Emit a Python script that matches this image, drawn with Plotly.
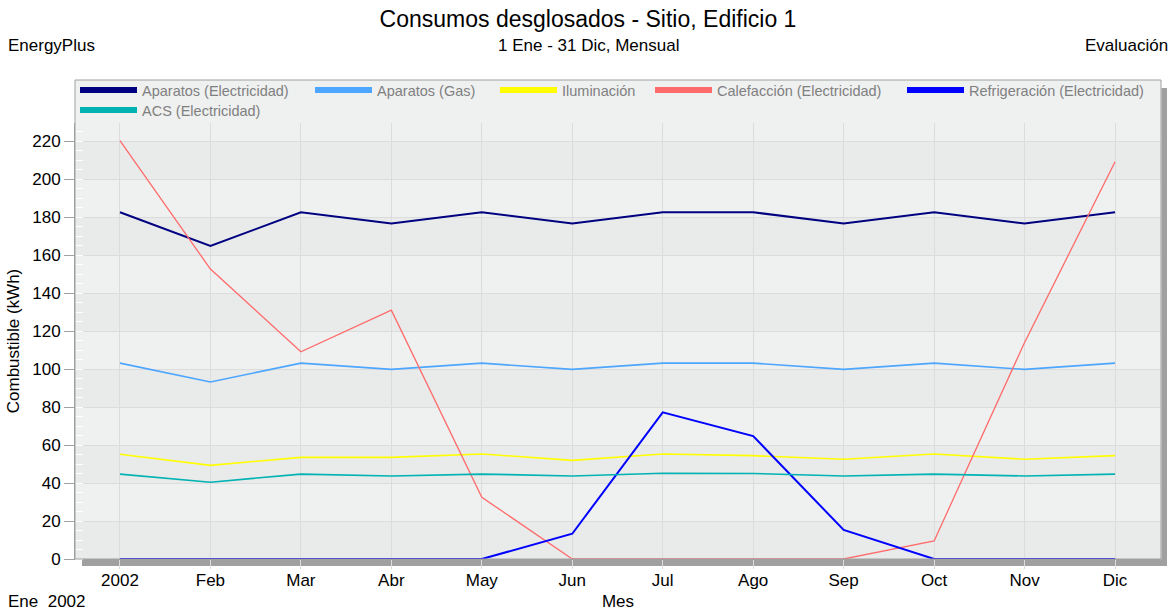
import plotly.graph_objects as go

# ---------------- data ----------------
meses = ["2002", "Feb", "Mar", "Abr", "May", "Jun", "Jul", "Ago", "Sep", "Oct", "Nov", "Dic"]
aparatos_elec = [182.5, 164.8, 182.5, 176.6, 182.5, 176.6, 182.5, 182.5, 176.6, 182.5, 176.6, 182.5]
aparatos_gas = [103.1, 93.2, 103.1, 99.8, 103.1, 99.8, 103.1, 103.1, 99.8, 103.1, 99.8, 103.1]
iluminacion = [55.1, 49.3, 53.5, 53.5, 55.3, 51.9, 55.3, 54.4, 52.5, 55.3, 52.5, 54.4]
calefaccion = [220.2, 152.6, 109.1, 131.0, 32.5, 0, 0, 0, 0, 9.5, 114.0, 209.1]
refrigeracion = [0, 0, 0, 0, 0, 13.3, 77.2, 64.7, 15.3, 0, 0, 0]
acs = [44.7, 40.4, 44.7, 43.7, 44.7, 43.7, 45.1, 45.0, 43.7, 44.7, 43.7, 44.7]
y_ticks = [0, 20, 40, 60, 80, 100, 120, 140, 160, 180, 200, 220]

series = [
    ("Aparatos (Electricidad)", aparatos_elec, "#000080", 2.0),
    ("Aparatos (Gas)", aparatos_gas, "#4da6ff", 1.6),
    ("Iluminación", iluminacion, "#ffff00", 1.6),
    ("Calefacción (Electricidad)", calefaccion, "#ff6b6b", 1.3),
    ("Refrigeración (Electricidad)", refrigeracion, "#0000ff", 2.0),
    ("ACS (Electricidad)", acs, "#00b2b2", 1.6),
]

# ---------------- geometry helpers ----------------
W, H = 1176, 612
L, R, T, B = 75, 1161, 123, 559
PW, PH = R - L, B - T


def px(p):
    return (p - L) / PW


def py(p):
    return (B - p) / PH


FONT = "Liberation Sans, Arial, sans-serif"
xidx = list(range(len(meses)))

fig = go.Figure()

legend_names = ["legend", "legend2", "legend3", "legend4", "legend5", "legend6"]
legend_pos = [(80, 90), (315, 90), (500, 90), (655, 90), (907, 90), (80, 110)]

for i, (name, vals, color, w) in enumerate(series):
    fig.add_trace(go.Scatter(
        x=xidx, y=vals, mode="lines", name=name,
        line=dict(color=color, width=w),
        legendgroup=name, showlegend=False,
        hovertemplate="%{y:.1f}<extra>" + name + "</extra>",
    ))

for i, (name, vals, color, w) in enumerate(series):
    fig.add_trace(go.Scatter(
        x=[None], y=[None], mode="lines", name=name,
        line=dict(color=color, width=6),
        legendgroup=name, showlegend=True, legend=legend_names[i],
        hoverinfo="skip",
    ))

shapes = []
# alternating horizontal bands
for k in range(0, 12, 2):
    shapes.append(dict(type="rect", xref="paper", yref="y", x0=0, x1=1,
                       y0=y_ticks[k], y1=y_ticks[k] + 20,
                       fillcolor="#e9eaea", line=dict(width=0), layer="below"))
# legend area background (top of box)
shapes.append(dict(type="rect", xref="paper", yref="paper",
                   x0=px(L), x1=px(R), y0=py(T), y1=py(80),
                   fillcolor="#eff0f0", line=dict(width=0), layer="below"))
# shadow right and bottom
shapes.append(dict(type="rect", xref="paper", yref="paper",
                   x0=px(R + 0.5), x1=px(1167), y0=py(566), y1=py(88),
                   fillcolor="#a0a0a0", line=dict(width=0), layer="below"))
shapes.append(dict(type="rect", xref="paper", yref="paper",
                   x0=px(82), x1=px(1167), y0=py(566), y1=py(B + 0.5),
                   fillcolor="#a0a0a0", line=dict(width=0), layer="below"))
# box border
shapes.append(dict(type="rect", xref="paper", yref="paper",
                   x0=px(L), x1=px(R), y0=py(B), y1=py(80),
                   fillcolor="rgba(0,0,0,0)", line=dict(width=1, color="#a0a0a0"),
                   layer="above"))

annotations = [
    dict(text="EnergyPlus", x=px(6), y=py(45), xanchor="left", yanchor="middle"),
    dict(text="1 Ene - 31 Dic, Mensual", x=px(588), y=py(45), xanchor="center", yanchor="middle"),
    dict(text="Evaluación", x=px(1170), y=py(45), xanchor="right", yanchor="middle"),
    dict(text="Ene  2002", x=px(6), y=py(601), xanchor="left", yanchor="middle"),
]
for a in annotations:
    a.update(xref="paper", yref="paper", showarrow=False,
             font=dict(family=FONT, size=17, color="#000000"))

layout_legends = {}
for i, ln in enumerate(legend_names):
    lx, ly = legend_pos[i]
    layout_legends[ln] = dict(
        x=px(lx - 5), y=py(ly), xanchor="left", yanchor="middle",
        orientation="h", bgcolor="rgba(0,0,0,0)", borderwidth=0,
        font=dict(family=FONT, size=14.5, color="#808080"),
        itemwidth=57, itemclick=False, itemdoubleclick=False,
    )

fig.update_layout(
    width=W, height=H,
    margin=dict(l=L, r=W - R, t=T, b=H - B, autoexpand=False),
    paper_bgcolor="#ffffff", plot_bgcolor="#eff0f0",
    font=dict(family=FONT, size=17, color="#000000"),
    title=dict(text="Consumos desglosados - Sitio, Edificio 1",
               x=0.5, xref="container", xanchor="center",
               y=1 - 19 / H, yref="container", yanchor="middle",
               font=dict(family=FONT, size=23, color="#000000")),
    xaxis=dict(
        range=[-0.497, 11.508], tickmode="array", tickvals=xidx, ticktext=meses,
        showgrid=True, gridcolor="#dcdcdc", gridwidth=1,
        ticks="outside", ticklen=9, tickcolor="#dcdcdc",
        ticklabelstandoff=-3,
        showline=True, linecolor="#a0a0a0", linewidth=1,
        zeroline=False, fixedrange=True,
        tickfont=dict(family=FONT, size=17, color="#000000"),
        title=dict(text="Mes", font=dict(family=FONT, size=17), standoff=5),
    ),
    yaxis=dict(
        range=[0, 229.5], tickmode="array", tickvals=y_ticks,
        showgrid=True, gridcolor="#dcdcdc", gridwidth=1,
        ticks="outside", ticklen=10, tickcolor="#a0a0a0",
        showline=True, linecolor="#a0a0a0", linewidth=1,
        zeroline=False, fixedrange=True,
        tickfont=dict(family=FONT, size=17, color="#000000"),
        title=dict(text="Combustible (kWh)", font=dict(family=FONT, size=17), standoff=8),
        minor=dict(ticks="inside", ticklen=8, tickcolor="#ffffff", dtick=5,
                   tick0=0, showgrid=False),
    ),
    shapes=shapes,
    annotations=annotations,
    showlegend=True,
    **layout_legends,
)

fig.write_html(
    "out.html",
    include_plotlyjs=True,
    config={"displayModeBar": False},
    post_script="document.body.style.margin='0';document.body.style.overflow='hidden';",
)
